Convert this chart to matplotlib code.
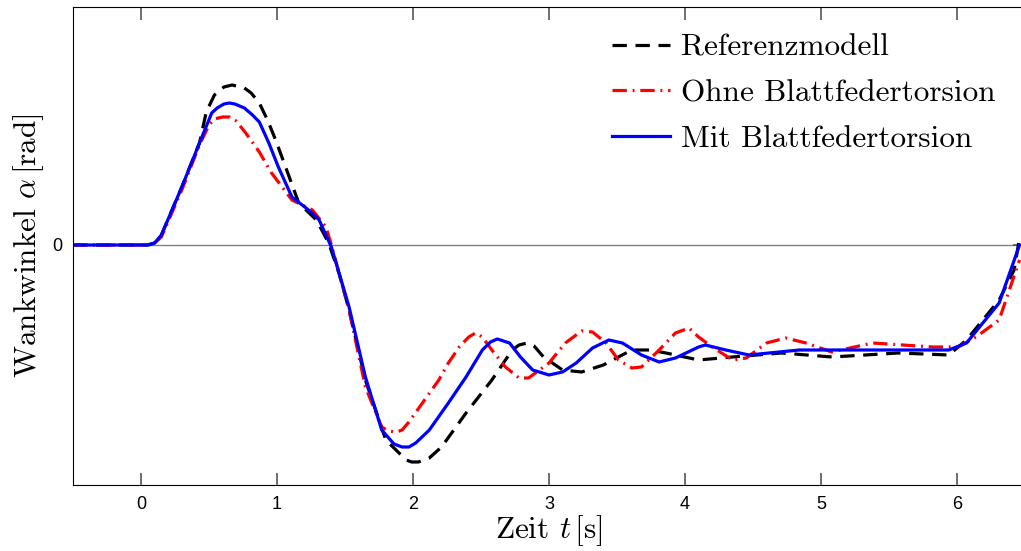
import numpy as np
import matplotlib.pyplot as plt

# Verlaeufe (Zeit in s, Winkel in rad)
t_ref = [-0.5, 0.05, 0.10, 0.15, 0.30, 0.43, 0.48, 0.54, 0.61, 0.67, 0.76, 0.81, 0.87,
         0.93, 0.99, 1.09, 1.16, 1.29, 1.38, 1.46, 1.53, 1.65, 1.80, 1.95, 1.99, 2.04,
         2.12, 2.21, 2.39, 2.58, 2.73, 2.78, 2.84, 2.89, 2.96, 3.10, 3.24, 3.40, 3.51,
         3.61, 3.74, 3.86, 4.10, 4.35, 4.71, 5.08, 5.57, 5.94, 6.07, 6.31, 6.42, 6.46]
a_ref = [0.0, 0.0, 0.002, 0.010, 0.058, 0.102, 0.133, 0.150, 0.158, 0.160, 0.157, 0.152,
         0.142, 0.125, 0.105, 0.068, 0.042, 0.025, 0.002, -0.030, -0.065, -0.135, -0.195,
         -0.215, -0.217, -0.217, -0.213, -0.202, -0.168, -0.135, -0.105, -0.100, -0.098,
         -0.101, -0.112, -0.125, -0.127, -0.120, -0.112, -0.105, -0.105, -0.108, -0.115,
         -0.112, -0.108, -0.112, -0.108, -0.110, -0.095, -0.055, -0.025, 0.007]

t_ohne = [-0.5, 0.05, 0.10, 0.15, 0.30, 0.43, 0.50, 0.54, 0.60, 0.65, 0.70, 0.77, 0.87,
          0.96, 1.11, 1.26, 1.36, 1.40, 1.53, 1.65, 1.77, 1.82, 1.88, 1.92, 1.97, 2.19,
          2.26, 2.34, 2.41, 2.46, 2.51, 2.58, 2.68, 2.78, 2.85, 3.00, 3.12, 3.24, 3.32,
          3.42, 3.51, 3.61, 3.68, 3.81, 3.93, 4.03, 4.10, 4.20, 4.35, 4.45, 4.60, 4.74,
          4.89, 5.08, 5.38, 5.82, 6.01, 6.14, 6.31, 6.46]
a_ohne = [0.0, 0.0, 0.002, 0.008, 0.055, 0.100, 0.120, 0.126, 0.128, 0.128, 0.124, 0.112,
          0.093, 0.072, 0.045, 0.035, 0.018, 0.0, -0.065, -0.142, -0.182, -0.186, -0.187,
          -0.185, -0.177, -0.135, -0.118, -0.102, -0.092, -0.088, -0.092, -0.105, -0.122,
          -0.133, -0.133, -0.118, -0.098, -0.086, -0.087, -0.098, -0.115, -0.123, -0.122,
          -0.105, -0.088, -0.083, -0.092, -0.102, -0.115, -0.113, -0.098, -0.093, -0.098,
          -0.107, -0.098, -0.102, -0.102, -0.092, -0.075, -0.015]

t_mit = [-0.5, 0.05, 0.10, 0.15, 0.30, 0.43, 0.52, 0.56, 0.61, 0.65, 0.69, 0.76, 0.82,
         0.87, 0.94, 1.01, 1.11, 1.26, 1.31, 1.40, 1.53, 1.65, 1.77, 1.86, 1.92, 1.97,
         2.02, 2.12, 2.26, 2.39, 2.51, 2.57, 2.62, 2.71, 2.79, 2.88, 3.00, 3.10, 3.20,
         3.32, 3.44, 3.54, 3.68, 3.81, 3.93, 4.10, 4.15, 4.30, 4.47, 4.84, 5.33, 5.94,
         6.07, 6.31, 6.46]
a_mit = [0.0, 0.0, 0.002, 0.010, 0.058, 0.102, 0.132, 0.137, 0.141, 0.142, 0.141, 0.137,
         0.130, 0.123, 0.102, 0.078, 0.048, 0.032, 0.025, -0.002, -0.062, -0.132, -0.185,
         -0.199, -0.202, -0.202, -0.198, -0.185, -0.158, -0.132, -0.105, -0.097, -0.094,
         -0.098, -0.112, -0.125, -0.130, -0.127, -0.118, -0.103, -0.095, -0.098, -0.110,
         -0.117, -0.113, -0.102, -0.100, -0.105, -0.110, -0.105, -0.105, -0.105, -0.098,
         -0.058, 0.0]

x_ticks = [0, 1, 2, 3, 4, 5, 6]

plt.rcParams['mathtext.fontset'] = 'cm'

fig = plt.figure(figsize=(10.21, 5.51), dpi=100)
ax = fig.add_axes([0.0715, 0.1198, 0.9324, 0.8675])

ax.axhline(0, color='#808080', lw=1.0, zorder=1)
ax.plot(t_ref, a_ref, color='k', lw=2.3, ls=(0, (4.5, 2.7)), label='Referenzmodell')
ax.plot(t_ohne, a_ohne, color='r', lw=2.3, ls=(0, (4.5, 1.8, 0.6, 1.8)),
        label='Ohne Blattfedertorsion')
ax.plot(t_mit, a_mit, color='b', lw=2.3, label='Mit Blattfedertorsion')

ax.set_xlim(-0.5, 6.5)
ax.set_ylim(-0.240, 0.238)
ax.set_xticks(x_ticks)
ax.set_yticks([0])
ax.xaxis.set_tick_params(which='major', direction='in', length=9, width=1.2,
                         color='#555555', top=True, bottom=True)
ax.yaxis.set_tick_params(which='major', direction='in', length=9, width=1.2,
                         color='#555555', left=True, right=True)
ax.tick_params(labelsize=13, pad=8)
for lab in ax.get_xticklabels() + ax.get_yticklabels():
    lab.set_family('Liberation Sans')

ax.set_xlabel(r'Zeit $t\,$[s]', family='cmr10', fontsize=22.5, labelpad=0)
ax.set_ylabel(r'Wankwinkel $\alpha\,$[rad]', family='cmr10', fontsize=22.5, labelpad=4)

leg = ax.legend(loc='upper right', frameon=False, prop={'family': 'cmr10', 'size': 22.5},
                handlelength=1.85, handletextpad=0.35, labelspacing=0.57,
                borderaxespad=0.45, bbox_to_anchor=(0.997, 1.0))

fig.savefig('out.png', dpi=100)
